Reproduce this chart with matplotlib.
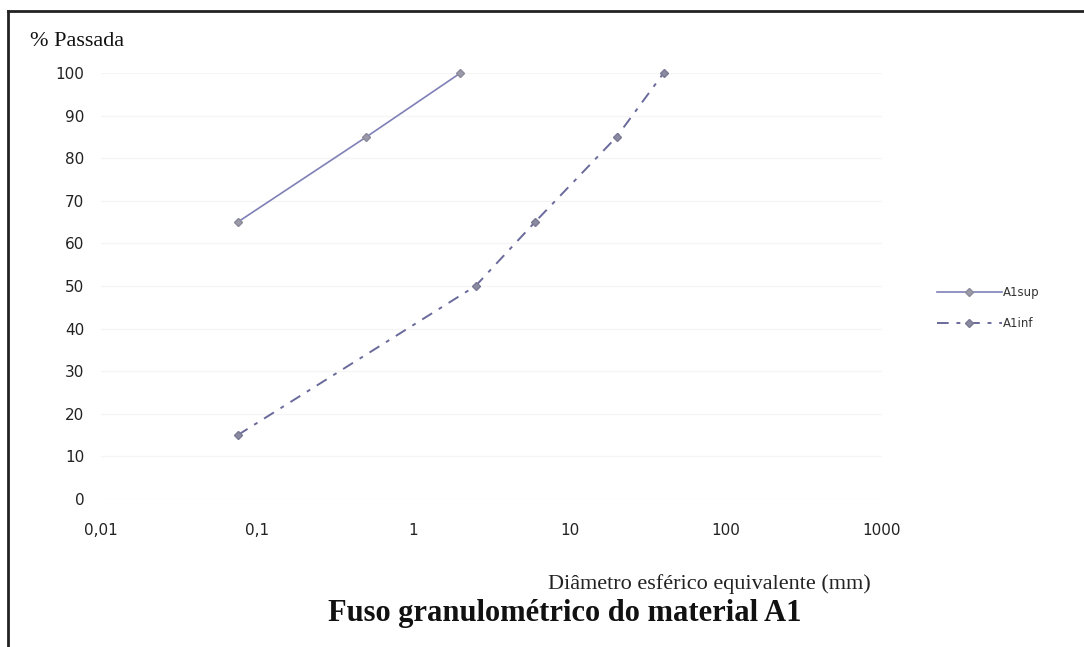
import matplotlib
matplotlib.use("Agg")
import matplotlib.pyplot as plt
from matplotlib.lines import Line2D

# Data
sup_x = [0.075, 0.5, 2.0]
sup_y = [65, 85, 100]
inf_x = [0.075, 2.5, 6.0, 20.0, 40.0]
inf_y = [15, 50, 65, 85, 100]
xticks = [0.01, 0.1, 1, 10, 100, 1000]
xtick_labels = ["0,01", "0,1", "1", "10", "100", "1000"]
yticks = list(range(0, 101, 10))

W, H = 1084, 647
fig = plt.figure(figsize=(W / 100, H / 100), dpi=100)
fig.patch.set_facecolor("white")

# axes placement in pixels
x0, x1 = 101, 882
y0, y1 = 499, 73
ax = fig.add_axes([x0 / W, 1 - y0 / H, (x1 - x0) / W, (y0 - y1) / H])
ax.set_xscale("log")
ax.set_xlim(0.01, 1000)
ax.set_ylim(0, 100)
for s in ax.spines.values():
    s.set_visible(False)

ax.set_yticks(yticks)
ax.set_yticklabels([str(v) for v in yticks], fontsize=11, color="#222222",
                   family="DejaVu Sans")
ax.set_xticks(xticks)
ax.set_xticklabels(xtick_labels, fontsize=11, color="#222222", family="DejaVu Sans")
ax.minorticks_off()
ax.tick_params(axis="both", length=0)
ax.tick_params(axis="y", pad=12)
ax.tick_params(axis="x", pad=17)
ax.grid(axis="y", color="#f5f5f5", linewidth=1)

sup_line, = ax.plot(sup_x, sup_y, color="#8080b8", linewidth=1.2, marker="D",
                    markersize=4, markerfacecolor="#9a9aa8", markeredgecolor="#8a8a9a",
                    clip_on=False, zorder=3)
inf_line, = ax.plot(inf_x, inf_y, color="#6a6a9c", linewidth=1.4, marker="D",
                    markersize=4, markerfacecolor="#8a8aa0", markeredgecolor="#7a7a94",
                    dashes=(6, 4, 2, 4), clip_on=False, zorder=3)

# legend
leg = fig.legend([sup_line, inf_line], ["A1sup", "A1inf"],
                 loc="center left", bbox_to_anchor=(926 / W, 1 - 308 / H),
                 frameon=False, fontsize=8.5, handlelength=5.5, handletextpad=0.1,
                 labelspacing=1.5)
for t in leg.get_texts():
    t.set_color("#333333")

# texts
fig.text(30 / W, 1 - 42 / H, "% Passada", family="Liberation Serif", fontsize=16,
         ha="left", va="center", color="#111111")
fig.text(709 / W, 1 - 584 / H, "Diâmetro esférico equivalente (mm)",
         family="Liberation Serif", fontsize=16, ha="center", va="center",
         color="#222222")
fig.text(565 / W, 1 - 613 / H, "Fuso granulométrico do material A1",
         family="Liberation Serif", fontsize=22, fontweight="bold",
         ha="center", va="center", color="#111111")

# border (top and left lines)
fig.add_artist(Line2D([8 / W, 8 / W], [0, 1 - 11 / H], color="#222222",
                      linewidth=2, transform=fig.transFigure))
fig.add_artist(Line2D([8 / W, 1], [1 - 11 / H, 1 - 11 / H], color="#222222",
                      linewidth=2, transform=fig.transFigure))

fig.savefig("out.png", dpi=100, facecolor="white")
